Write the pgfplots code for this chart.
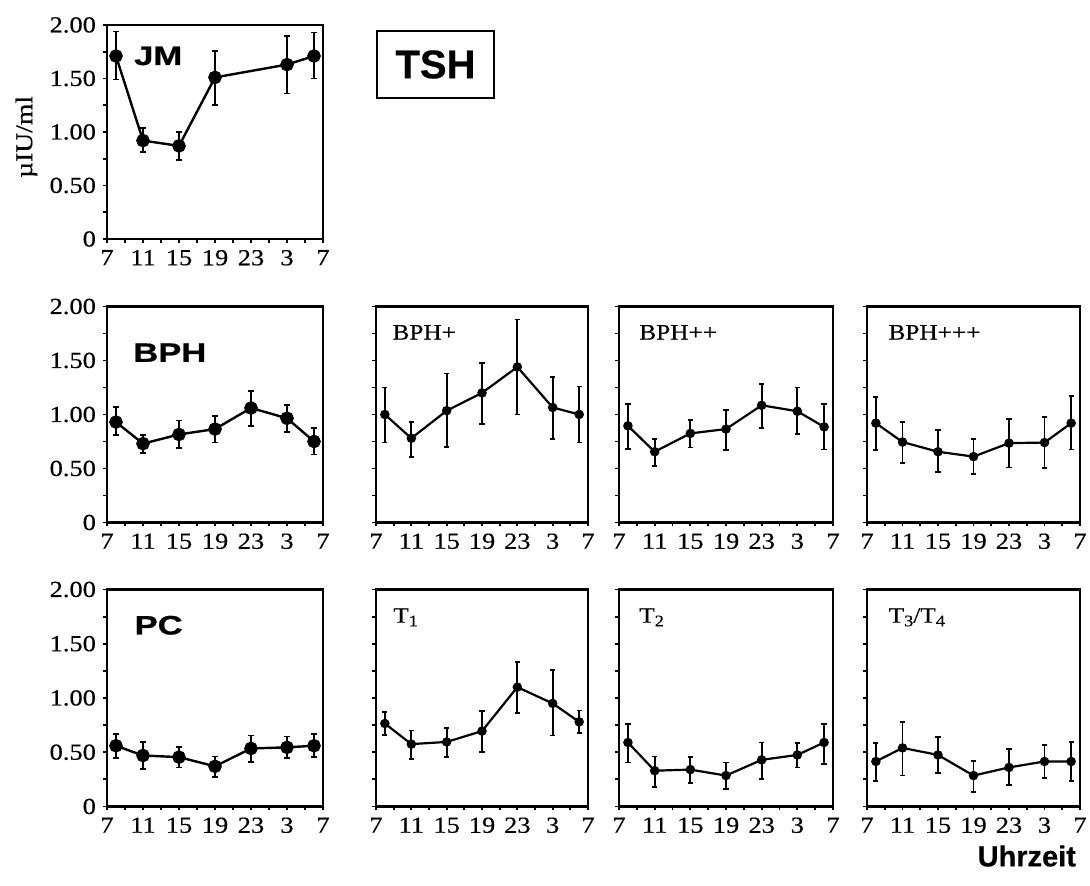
\documentclass[border=0pt]{standalone}
\usepackage{fontspec}
\setmainfont{Liberation Serif}[FakeStretch=1.15, FakeBold=0.4]
\newfontfamily\labsans{Liberation Sans}[FakeStretch=1.3, FakeBold=0.8]
\newfontfamily\plainsans{Liberation Sans}[FakeBold=0.5]
\usepackage{pgfplots}
\usepackage{pgfplotstable}
\pgfplotsset{compat=1.18}

\pgfplotstableread{
x y hi lo
8 1.71 1.94 1.49
11 0.92 1.04 0.81
15 0.87 1.00 0.74
19 1.51 1.76 1.25
27 1.63 1.90 1.36
30 1.71 1.93 1.50
}\tJM
\pgfplotstableread{
x y hi lo
8 0.93 1.07 0.81
11 0.73 0.81 0.64
15 0.815 0.945 0.69
19 0.865 0.985 0.74
23 1.06 1.22 0.89
27 0.965 1.09 0.835
30 0.75 0.875 0.63
}\tBPH
\pgfplotstableread{
x y hi lo
8 1.00 1.25 0.74
11 0.78 0.93 0.61
15 1.035 1.38 0.70
19 1.20 1.48 0.91
23 1.44 1.88 1.00
27 1.065 1.35 0.77
30 1.00 1.26 0.74
}\tBPHa
\pgfplotstableread{
x y hi lo
8 0.895 1.10 0.68
11 0.655 0.775 0.525
15 0.825 0.95 0.695
19 0.865 1.04 0.67
23 1.085 1.28 0.875
27 1.03 1.25 0.82
30 0.885 1.095 0.675
}\tBPHb
\pgfplotstableread{
x y hi lo
8 0.92 1.165 0.67
11 0.745 0.93 0.55
15 0.655 0.855 0.465
19 0.61 0.77 0.45
23 0.735 0.96 0.51
27 0.74 0.975 0.505
30 0.92 1.17 0.675
}\tBPHc
\pgfplotstableread{
x y hi lo
8 0.56 0.67 0.45
11 0.47 0.595 0.345
15 0.455 0.545 0.36
19 0.37 0.46 0.275
23 0.535 0.655 0.41
27 0.545 0.645 0.445
30 0.56 0.67 0.455
}\tPC
\pgfplotstableread{
x y hi lo
8 0.765 0.87 0.66
11 0.575 0.70 0.435
15 0.595 0.725 0.455
19 0.695 0.88 0.50
23 1.10 1.335 0.865
27 0.95 1.26 0.655
30 0.78 0.885 0.675
}\tTa
\pgfplotstableread{
x y hi lo
8 0.59 0.76 0.405
11 0.33 0.46 0.18
15 0.34 0.455 0.22
19 0.285 0.405 0.16
23 0.43 0.59 0.25
27 0.475 0.585 0.36
30 0.59 0.76 0.39
}\tTb
\pgfplotstableread{
x y hi lo
8 0.415 0.585 0.235
11 0.54 0.78 0.285
15 0.475 0.64 0.31
19 0.285 0.42 0.135
23 0.36 0.53 0.195
27 0.415 0.57 0.265
30 0.415 0.595 0.235
}\tTc

\pgfplotsset{
  panel/.style={
    scale only axis, anchor=south west, height=108pt,
    xmin=7, xmax=31, ymin=0, ymax=2,
    xtick={7,11,15,19,23,27,31}, xticklabels={7,11,15,19,23,3,7},
    minor xtick={9,13,17,21,25,29},
    ytick={0,0.5,1,1.5,2}, minor ytick={0.25,0.75,1.25,1.75},
    tick align=outside, tick pos=left,
    major tick length=2pt, minor tick length=2pt,
    tick style={black, line width=0.9pt},
    axis line style={line width=1.2pt},
    tick label style={font=\fontsize{11.5}{12}\selectfont},
    clip=false,
  },
  leftpanel/.style={panel, yticklabels={0,0.50,1.00,1.50,2.00}},
  innerpanel/.style={panel, yticklabels={}},
  bigdata/.style={black, line width=1.2pt, mark=*, mark size=2.8pt,
    error bars/.cd, y dir=both, y explicit,
    error bar style={line width=0.9pt},
    error mark options={rotate=90, mark size=1.4pt, line width=0.9pt}},
  smalldata/.style={black, line width=1.1pt, mark=*, mark size=1.8pt,
    error bars/.cd, y dir=both, y explicit,
    error bar style={line width=0.9pt},
    error mark options={rotate=90, mark size=1.3pt, line width=0.9pt}},
}
\newcommand{\biglab}[1]{\fontsize{13.3}{14}\selectfont\labsans\bfseries #1}
\newcommand{\serlab}[1]{\fontsize{11}{12}\selectfont #1}

\begin{document}
\begin{tikzpicture}
\useasboundingbox (0,0) rectangle (545pt,443pt);

% JM
\begin{axis}[leftpanel, at={(53.5pt,323.5pt)}, width=108pt, height=107pt,
  ylabel={µIU/ml}, ylabel style={at={(axis description cs:-0.373,0.477)}, anchor=center, font=\fontsize{12}{13}\selectfont}]
\addplot[bigdata] table[x=x, y=y, y error plus expr=\thisrow{hi}-\thisrow{y}, y error minus expr=\thisrow{y}-\thisrow{lo}] {\tJM};
\node[anchor=base west, inner sep=0pt] at (rel axis cs:0.124,0.813) {\biglab{JM}};
\end{axis}

\node[draw, line width=0.9pt, minimum width=58.5pt, minimum height=33.5pt, inner sep=0pt,
  font=\fontsize{20}{22}\selectfont\plainsans\bfseries] at (217.75pt,410.75pt) {TSH};

% BPH row
\begin{axis}[leftpanel, at={(53.5pt,181.75pt)}, width=108pt]
\addplot[bigdata] table[x=x, y=y, y error plus expr=\thisrow{hi}-\thisrow{y}, y error minus expr=\thisrow{y}-\thisrow{lo}] {\tBPH};
\node[anchor=base west, inner sep=0pt] at (rel axis cs:0.12,0.744) {\biglab{BPH}};
\end{axis}
\begin{axis}[innerpanel, at={(188pt,181.75pt)}, width=106pt]
\addplot[smalldata] table[x=x, y=y, y error plus expr=\thisrow{hi}-\thisrow{y}, y error minus expr=\thisrow{y}-\thisrow{lo}] {\tBPHa};
\node[anchor=base west, inner sep=0pt] at (rel axis cs:0.076,0.847) {\serlab{BPH+}};
\end{axis}
\begin{axis}[innerpanel, at={(309.5pt,181.75pt)}, width=107pt]
\addplot[smalldata] table[x=x, y=y, y error plus expr=\thisrow{hi}-\thisrow{y}, y error minus expr=\thisrow{y}-\thisrow{lo}] {\tBPHb};
\node[anchor=base west, inner sep=0pt] at (rel axis cs:0.093,0.847) {\serlab{BPH++}};
\end{axis}
\begin{axis}[innerpanel, at={(433.5pt,181.75pt)}, width=106.5pt]
\addplot[smalldata] table[x=x, y=y, y error plus expr=\thisrow{hi}-\thisrow{y}, y error minus expr=\thisrow{y}-\thisrow{lo}] {\tBPHc};
\node[anchor=base west, inner sep=0pt] at (rel axis cs:0.099,0.847) {\serlab{BPH+++}};
\end{axis}

% PC row
\begin{axis}[leftpanel, at={(53.5pt,39.75pt)}, width=108pt, height=108.5pt]
\addplot[bigdata] table[x=x, y=y, y error plus expr=\thisrow{hi}-\thisrow{y}, y error minus expr=\thisrow{y}-\thisrow{lo}] {\tPC};
\node[anchor=base west, inner sep=0pt] at (rel axis cs:0.126,0.793) {\biglab{PC}};
\end{axis}
\begin{axis}[innerpanel, at={(188pt,39.75pt)}, width=106pt, height=108.5pt]
\addplot[smalldata] table[x=x, y=y, y error plus expr=\thisrow{hi}-\thisrow{y}, y error minus expr=\thisrow{y}-\thisrow{lo}] {\tTa};
\node[anchor=base west, inner sep=0pt] at (rel axis cs:0.08,0.847) {\serlab{T\raisebox{-0.35ex}{\fontsize{8}{9}\selectfont 1}}};
\end{axis}
\begin{axis}[innerpanel, at={(309.5pt,39.75pt)}, width=107pt, height=108.5pt]
\addplot[smalldata] table[x=x, y=y, y error plus expr=\thisrow{hi}-\thisrow{y}, y error minus expr=\thisrow{y}-\thisrow{lo}] {\tTb};
\node[anchor=base west, inner sep=0pt] at (rel axis cs:0.093,0.847) {\serlab{T\raisebox{-0.35ex}{\fontsize{8}{9}\selectfont 2}}};
\end{axis}
\begin{axis}[innerpanel, at={(433.5pt,39.75pt)}, width=106.5pt, height=108.5pt,
  xlabel={Uhrzeit}, xlabel style={at={(axis description cs:1.014,-0.276)}, anchor=base east,
  font=\fontsize{14.5}{16}\selectfont\plainsans\bfseries}]
\addplot[smalldata] table[x=x, y=y, y error plus expr=\thisrow{hi}-\thisrow{y}, y error minus expr=\thisrow{y}-\thisrow{lo}] {\tTc};
\node[anchor=base west, inner sep=0pt] at (rel axis cs:0.1,0.847) {\serlab{T\raisebox{-0.35ex}{\fontsize{8}{9}\selectfont 3}/T\raisebox{-0.35ex}{\fontsize{8}{9}\selectfont 4}}};
\end{axis}
\end{tikzpicture}
\end{document}
